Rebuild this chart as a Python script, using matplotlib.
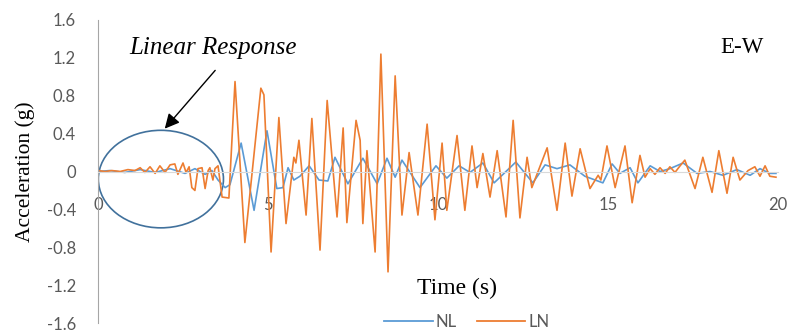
import matplotlib
matplotlib.use("Agg")
import matplotlib.pyplot as plt
from matplotlib.patches import Ellipse

# time (s) / acceleration (g)
ln_t = [0.00, 0.21, 0.41, 0.65, 0.88, 1.09, 1.24, 1.38, 1.53, 1.68, 1.82, 1.97, 2.12, 2.26,
        2.35, 2.50, 2.59, 2.68, 2.76, 2.85, 2.94, 3.06, 3.15, 3.24, 3.29, 3.38, 3.44, 3.53,
        3.65, 3.85, 4.03, 4.32, 4.79, 4.88, 5.09, 5.32, 5.53, 5.76, 5.82, 5.91, 6.12, 6.29,
        6.53, 6.74, 7.03, 7.21, 7.32, 7.59, 7.71, 7.79, 7.91, 8.15, 8.32, 8.53, 8.74, 8.94,
        9.15, 9.41, 9.68, 9.91, 10.12, 10.26, 10.56, 10.79, 11.00, 11.15, 11.32, 11.53, 11.74,
        12.00, 12.21, 12.41, 12.62, 12.76, 13.21, 13.50, 13.74, 13.94, 14.18, 14.47, 14.71,
        14.79, 14.97, 15.21, 15.50, 15.71, 15.94, 16.09, 16.24, 16.38, 16.53, 16.68, 16.82,
        16.97, 17.12, 17.26, 17.56, 17.79, 18.06, 18.26, 18.50, 18.68, 18.88, 19.12, 19.32,
        19.47, 19.62, 19.76, 19.94]
ln_a = [0.01, 0.00, 0.01, 0.00, 0.02, 0.01, 0.04, -0.01, 0.05, -0.02, 0.06, -0.01, 0.07, 0.08,
        -0.03, 0.09, -0.01, 0.05, -0.17, -0.20, 0.03, 0.04, -0.18, 0.01, 0.04, -0.09, 0.03, 0.06,
        -0.27, -0.28, 0.95, -0.75, 0.88, 0.81, -0.85, 0.57, -0.55, 0.15, 0.09, 0.33, -0.46, 0.56,
        -0.83, 0.75, -0.48, 0.46, -0.54, 0.54, 0.33, -0.55, 0.22, -0.85, 1.24, -1.06, 1.01, -0.46,
        0.20, -0.46, 0.50, -0.51, 0.30, -0.41, 0.38, -0.41, 0.27, -0.17, 0.19, -0.27, 0.22,
        -0.48, 0.54, -0.49, 0.15, -0.17, 0.25, -0.41, 0.30, -0.26, 0.24, -0.18, -0.04,
        -0.09, 0.27, -0.17, 0.27, -0.33, 0.17, -0.06, 0.03, -0.03, 0.04, -0.02, 0.05,
        -0.01, 0.06, 0.12, -0.18, 0.15, -0.22, 0.22, -0.23, 0.15, -0.09, 0.01, 0.05,
        -0.05, 0.06, -0.05, -0.06]

nl_t = [0.00, 0.35, 0.79, 1.24, 1.68, 2.12, 2.56, 2.85, 3.15, 3.35, 3.53, 3.74, 3.88, 4.21,
        4.59, 4.97, 5.26, 5.44, 5.59, 5.76, 5.94, 6.21, 6.50, 6.76, 6.97, 7.35, 7.79, 8.21,
        8.50, 8.74, 8.94, 9.47, 9.94, 10.26, 10.62, 10.94, 11.32, 11.65, 12.29, 12.79, 13.15,
        13.50, 13.88, 14.32, 14.85, 15.12, 15.35, 15.65, 15.88, 16.24, 16.53, 16.82, 17.21,
        17.62, 18.00, 18.38, 18.79, 19.18, 19.47, 19.76, 19.94]
nl_a = [0.00, 0.01, -0.01, 0.02, -0.01, 0.03, -0.02, 0.03, -0.03, 0.01, -0.09, -0.17, -0.14, 0.30,
        -0.41, 0.43, -0.18, -0.17, 0.04, -0.09, -0.05, 0.06, -0.09, -0.10, 0.15, -0.13, 0.14, -0.13,
        0.14, -0.06, 0.12, -0.17, 0.06, -0.07, 0.06, -0.01, 0.09, -0.12, 0.10, -0.12, 0.07,
        0.03, 0.07, -0.05, -0.12, 0.08, -0.02, 0.04, -0.12, 0.06, 0.00, 0.03, 0.09,
        -0.02, 0.00, -0.04, 0.02, -0.04, 0.03, -0.02, -0.02]

x_ticks = [0, 5, 10, 15, 20]
y_ticks = [-1.6, -1.2, -0.8, -0.4, 0, 0.4, 0.8, 1.2, 1.6]
y_labels = ["-1.6", "-1.2", "-0.8", "-0.4", "0", "0.4", "0.8", "1.2", "1.6"]

BLUE = "#5B9BD5"
ORANGE = "#ED7D31"
TICK_GRAY = "#595959"
SERIF = "Liberation Serif"

fig = plt.figure(figsize=(7.94, 3.34), dpi=100)
ax = fig.add_axes([98 / 794, 1 - 323 / 334, 680 / 794, 303 / 334])

ax.plot(nl_t, nl_a, color=BLUE, linewidth=1.2, label="NL")
ax.plot(ln_t, ln_a, color=ORANGE, linewidth=1.2, label="LN")

ax.set_xlim(0, 20)
ax.set_ylim(-1.6, 1.6)
ax.set_xticks(x_ticks)
ax.set_yticks(y_ticks)
ax.set_yticklabels(y_labels)

for side in ["top", "right"]:
    ax.spines[side].set_visible(False)
ax.spines["left"].set_color("#A6A6A6")
ax.spines["bottom"].set_position(("data", 0))
ax.spines["bottom"].set_color("#D9D9D9")
ax.tick_params(axis="both", length=0, labelsize=12, labelcolor=TICK_GRAY)
ax.tick_params(axis="y", pad=16)
ax.tick_params(axis="x", pad=18)
for lab in ax.get_xticklabels() + ax.get_yticklabels():
    lab.set_fontfamily("Lato")

ax.set_ylabel("Acceleration (g)", fontsize=15.5, family=SERIF)
ax.yaxis.set_label_coords(-0.093, 0.5)
ax.text(10.55, -1.23, "Time (s)", fontsize=17, family=SERIF, ha="center", va="center")
ax.text(18.95, 1.31, "E-W", fontsize=16.5, family=SERIF, ha="center", va="center")

# annotation ellipse around the linear part
ax.add_patch(Ellipse((1.85, -0.08), 3.68, 1.03, fill=False, edgecolor="#41719C", linewidth=1.2))
ax.annotate("", xy=(1.91, 0.43), xytext=(3.5, 1.09),
            arrowprops=dict(arrowstyle="-|>", color="black", lw=1.0, mutation_scale=22))
ax.text(3.37, 1.30, "Linear Response", fontsize=18, family=SERIF, style="italic",
        ha="center", va="center")

leg = fig.legend(loc="center", bbox_to_anchor=(467 / 794, 1 - 322 / 334), ncol=2, frameon=False,
                 handlelength=2.9, handletextpad=0.2, columnspacing=1.2,
                 prop={"family": "Lato", "size": 12})
for t in leg.get_texts():
    t.set_color(TICK_GRAY)
for h in leg.legend_handles:
    h.set_linewidth(1.3)

fig.savefig("out.png", dpi=100)
